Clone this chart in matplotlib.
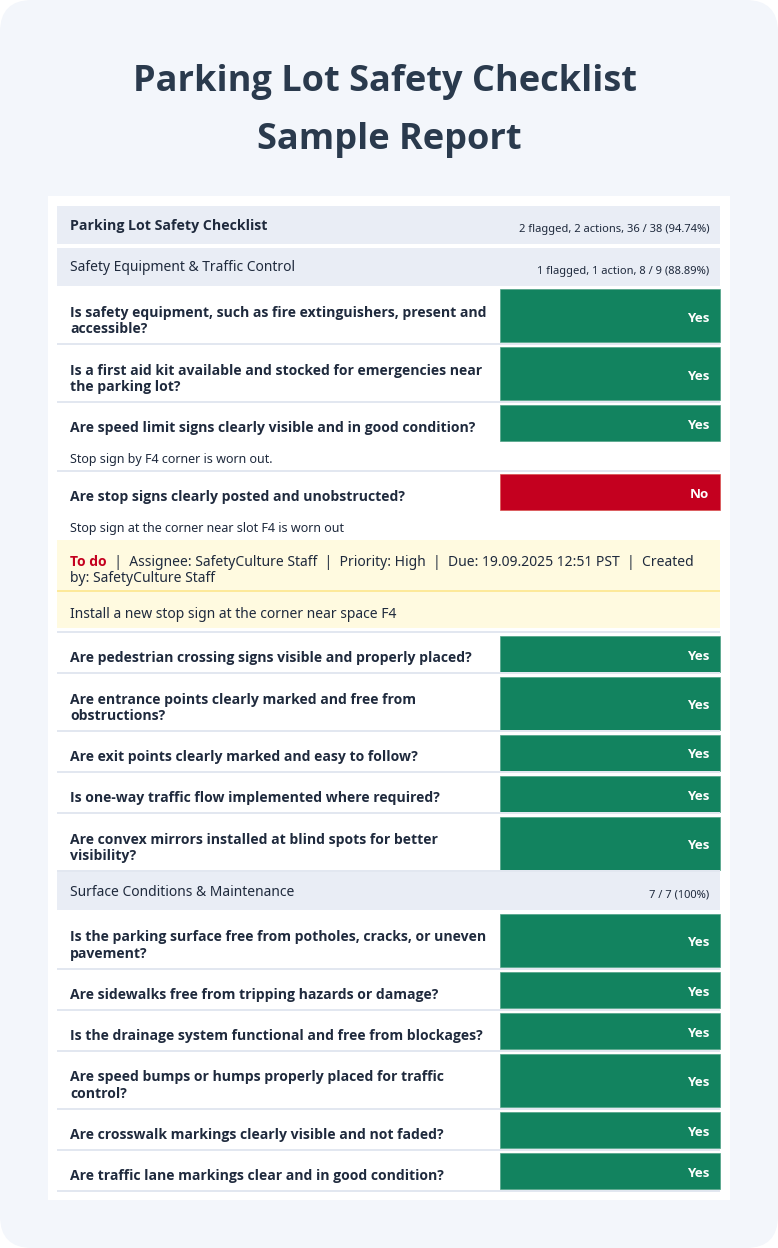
import matplotlib
matplotlib.use("Agg")
import matplotlib.pyplot as plt
from matplotlib.patches import Rectangle, FancyBboxPatch

plt.rcParams['font.family'] = ['Noto Sans', 'DejaVu Sans']

W, H = 778, 1248

title_lines = ["Parking Lot Safety Checklist", "Sample Report"]
report_name = "Parking Lot Safety Checklist"
report_score = "2 flagged, 2 actions, 36 / 38 (94.74%)"

section1_name = "Safety Equipment & Traffic Control"
section1_score = "1 flagged, 1 action, 8 / 9 (88.89%)"
section1_questions = [
    "Is safety equipment, such as fire extinguishers, present and\naccessible?",
    "Is a first aid kit available and stocked for emergencies near\nthe parking lot?",
    "Are speed limit signs clearly visible and in good condition?",
    "Are stop signs clearly posted and unobstructed?",
]
section1_answers = ["Yes", "Yes", "Yes", "No"]
section1_notes = ["", "", "Stop sign by F4 corner is worn out.",
                  "Stop sign at the corner near slot F4 is worn out"]

action_status = "To do"
action_meta = ["  |  Assignee: SafetyCulture Staff  |  Priority: High  |  Due: 19.09.2025 12:51 PST  |  Created",
               "by: SafetyCulture Staff"]
action_text = "Install a new stop sign at the corner near space F4"

section1b_questions = [
    "Are pedestrian crossing signs visible and properly placed?",
    "Are entrance points clearly marked and free from\nobstructions?",
    "Are exit points clearly marked and easy to follow?",
    "Is one-way traffic flow implemented where required?",
    "Are convex mirrors installed at blind spots for better\nvisibility?",
]
section1b_answers = ["Yes", "Yes", "Yes", "Yes", "Yes"]

section2_name = "Surface Conditions & Maintenance"
section2_score = "7 / 7 (100%)"
section2_questions = [
    "Is the parking surface free from potholes, cracks, or uneven\npavement?",
    "Are sidewalks free from tripping hazards or damage?",
    "Is the drainage system functional and free from blockages?",
    "Are speed bumps or humps properly placed for traffic\ncontrol?",
    "Are crosswalk markings clearly visible and not faded?",
    "Are traffic lane markings clear and in good condition?",
]
section2_answers = ["Yes", "Yes", "Yes", "Yes", "Yes", "Yes"]

# colores
DARK = "#1f2a3d"
TITLE = "#2a3a4d"
HEAD = "#e9edf5"
LINE = "#e2e7f0"
GREEN = "#12835f"
RED = "#c4001f"
YELLOW = "#fffae0"
YLINE = "#fde99a"

LEFT, RIGHT = 57, 720
ANS_L = 500
TXT_X = 70
TXT_R = 709.5
FS_Q = 10.08
FS_N = 9.0
FS_S = 8.03
FS_ACT = 10.03

fig = plt.figure(figsize=(W / 100, H / 100), dpi=100, facecolor="white")
ax = fig.add_axes([0, 0, 1, 1])
ax.set_xlim(0, W)
ax.set_ylim(H, 0)
ax.axis("off")


def box(x0, y0, x1, y1, color, edge="none"):
    ax.add_patch(Rectangle((x0, y0), x1 - x0, y1 - y0, fc=color, ec=edge, lw=0.5))


def txt(x, y, s, size, color=DARK, weight="normal", ha="left"):
    # Noto Sans solo trae regular aqui, la negrita va con Open Sans
    fam = ['Open Sans', 'DejaVu Sans'] if weight == "bold" else ['Noto Sans', 'DejaVu Sans']
    return ax.text(x, y, s, fontsize=size, color=color, fontweight=weight, family=fam,
                   ha=ha, va="center_baseline", linespacing=1.22)


# fondo
ax.add_patch(FancyBboxPatch((30, 30), W - 60, H - 60, boxstyle="round,pad=30,rounding_size=32",
                            fc="#f3f6fb", ec="none"))
box(48, 196, 730, 1200, "white")

for line, xx, yy in zip(title_lines, [385, 389], [77, 135]):
    txt(xx, yy, line, 26.0, TITLE, "bold", "center")


def header(y, name, score, weight="normal", name_dy=17.5):
    box(LEFT, y, RIGHT, y + 38, HEAD)
    if weight == "bold":
        txt(TXT_X, y + 18.5, name, FS_Q + 0.1, DARK, weight)
    else:
        txt(TXT_X, y + name_dy, name, 9.97, DARK, weight)
    txt(TXT_R, y + 22, score, FS_S, DARK, ha="right")
    return y + 42


def row(y, question, answer, note=""):
    two = "\n" in question
    h = 53 if two else 36
    color, edge = (GREEN, "#4fa287") if answer == "Yes" else (RED, "#d9534f")
    box(ANS_L, y + 2, RIGHT, y + 2 + h, color, edge)
    txt(TXT_X, y + 2 + h / 2 + (2.5 if two else 3.2), question, FS_Q, DARK, "bold")
    txt(TXT_R, y + 2 + h / 2 + 1, answer, 9.6, "white", "bold", "right")
    y2 = y + h + 4
    if note:
        txt(TXT_X, y2 + 15, note, FS_N)
        y2 += 28
    return y2


def sep(y):
    box(LEFT, y - 1.5, RIGHT, y + 0.5, LINE)
    return y + 1


y = header(206, report_name, report_score, "bold")
y = header(y, section1_name, section1_score)
y = y - 3

for i in range(3):
    y = sep(row(y, section1_questions[i], section1_answers[i], section1_notes[i]))

# pregunta con acción
row(y, section1_questions[3], section1_answers[3], section1_notes[3])
act_top = 540
box(LEFT, act_top, RIGHT, act_top + 88, YELLOW)
box(LEFT, act_top + 50, RIGHT, act_top + 52, YLINE)
t = txt(TXT_X, act_top + 20, action_status, FS_ACT, RED, "bold")
fig.canvas.draw()
bb = t.get_window_extent().transformed(ax.transData.inverted())
txt(bb.x1, act_top + 20, action_meta[0], FS_ACT)
txt(TXT_X, act_top + 36.5, action_meta[1], FS_ACT)
txt(TXT_X, act_top + 73, action_text, FS_ACT)

y = sep(act_top + 92.5)
for q, a in zip(section1b_questions, section1b_answers):
    y = sep(row(y, q, a))

y = header(y - 1, section2_name, section2_score, name_dy=19)
y = y - 1.5
for q, a in zip(section2_questions, section2_answers):
    y = sep(row(y, q, a))

fig.savefig("out.png", dpi=100, facecolor="white")
plt.close()
